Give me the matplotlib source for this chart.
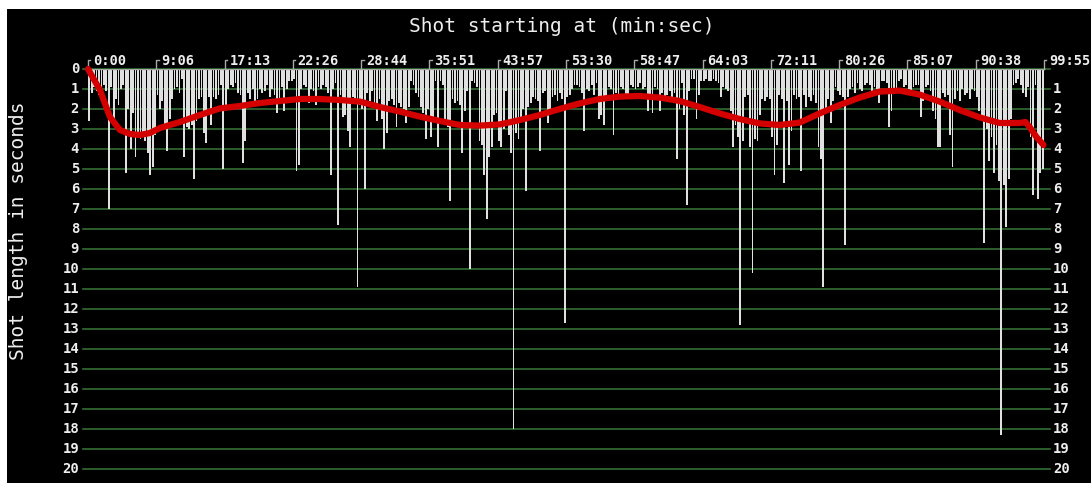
import matplotlib
matplotlib.use("Agg")
import matplotlib.pyplot as plt
from matplotlib.patches import Rectangle

# Length of every shot in seconds, in film order
shot_lengths = [
    2.6, 1.2, 0.9, 1.1, 1.3, 1.0, 0.8, 1.1, 7.0, 0.9,
    2.5, 1.5, 1.8, 1.0, 0.8, 5.2, 2.0, 4.0, 2.2, 4.4,
    3.3, 3.5, 3.2, 3.6, 4.2, 5.3, 4.9, 3.3, 1.3, 2.0,
    1.6, 2.8, 4.1, 2.5, 1.5, 1.0, 0.9, 1.2, 0.5, 4.4,
    2.9, 3.0, 2.8, 5.5, 2.6, 1.5, 1.4, 3.2, 3.7, 1.4,
    2.8, 1.4, 1.5, 1.3, 0.8, 5.0, 1.8, 1.0, 0.8, 0.9,
    0.7, 1.2, 1.3, 4.7, 3.6, 1.2, 1.5, 1.0, 1.6, 1.5,
    1.0, 1.2, 1.1, 0.8, 1.4, 1.0, 1.3, 2.2, 1.5, 0.9,
    2.1, 1.0, 0.6, 0.6, 0.5, 5.1, 4.8, 1.0, 0.8, 0.9,
    1.7, 1.0, 1.1, 1.8, 0.9, 1.0, 0.8,
    0.9, 1.2, 5.3, 1.0, 0.7, 7.8, 1.3, 2.4, 2.3, 3.1,
    3.9, 1.4, 1.6, 10.9, 1.8, 2.0, 6.0, 1.2, 1.6, 1.1,
    1.7, 2.6, 1.5, 2.5, 4.0, 3.2, 1.6, 1.5, 1.8, 2.9,
    1.7, 1.9, 2.0, 2.7, 1.9, 0.6, 0.8, 1.2, 1.4, 1.9,
    2.2, 3.5, 2.0, 3.4, 2.5, 0.6, 3.9, 0.6, 0.8, 2.7,
    2.9, 6.6, 1.5, 1.7, 1.6, 1.8, 4.2, 2.1, 1.1, 10.0,
    0.6, 0.7, 0.9, 3.6, 3.8, 5.3, 7.5, 4.4, 3.9, 2.3,
    2.2, 3.6, 3.9, 3.0, 1.1, 3.3, 4.2, 18.0, 3.2, 3.5,
    2.6, 2.0, 6.1, 1.9, 1.7, 1.4, 1.5, 1.6, 4.1, 1.2,
    1.1, 2.7, 2.2, 1.4, 1.3, 1.6, 1.2, 1.5,
    12.7, 1.4, 1.3, 1.0, 0.8, 0.8, 0.9, 1.2, 3.1, 1.0,
    1.1, 0.8, 1.3, 0.7, 2.5, 2.3, 2.8, 1.5, 0.9, 1.0,
    3.3, 1.2, 1.4, 0.9, 1.0, 1.5, 1.3, 0.8, 0.9, 1.0,
    0.9, 0.7, 1.0, 0.9, 2.1, 1.3, 2.2, 0.9, 1.0, 2.1,
    1.2, 1.5, 1.3, 1.1, 1.6, 1.2, 4.5, 2.0, 0.7, 2.3,
    6.8, 1.1, 0.5, 0.5, 2.5, 1.3, 0.6, 0.6, 0.5, 0.6,
    0.6, 0.5, 0.6, 0.7, 1.4, 0.9, 1.0, 1.1, 2.1, 3.9,
    2.8, 3.4, 12.8, 3.6, 1.4, 1.3, 3.9, 10.2, 3.5, 3.6,
    2.3, 1.5, 1.6, 1.4, 1.5, 3.4, 5.3, 3.8, 1.3, 1.5,
    5.7, 1.6, 4.8, 3.1, 1.3, 1.5, 1.4,
    5.1, 1.3, 1.9, 1.4, 1.6, 1.3, 1.7, 3.9, 4.5, 10.9,
    2.0, 1.5, 2.7, 1.6, 0.9, 1.1, 1.3, 1.4, 8.8, 1.4,
    1.0, 0.9, 1.2, 0.7, 1.0, 1.1, 0.8, 0.7, 0.8, 1.4,
    0.9, 1.0, 1.7, 0.6, 0.6, 0.7, 2.9, 2.1, 1.2, 1.0,
    0.6, 0.5, 0.9, 0.8, 1.0, 1.2, 0.9, 0.8, 0.8, 2.4,
    1.6, 0.9, 0.8, 1.1, 2.1, 2.5, 3.9, 3.9, 1.2, 1.4,
    1.3, 3.3, 4.9, 1.5, 1.1, 1.6, 1.0, 1.3, 1.2, 1.5,
    1.0, 1.1, 1.4, 2.1, 2.4, 8.7, 3.0, 4.6, 3.4, 5.2,
    3.8, 5.6, 18.3, 5.8, 7.9, 5.5, 2.5, 0.8, 0.7, 0.5,
    0.8, 1.2, 1.4, 0.9, 3.4, 6.3, 0.8, 6.5, 5.2, 5.0,
]

# Start time of the shot at each labelled tick
time_labels = ["0:00", "9:06", "17:13", "22:26", "28:44", "35:51", "43:57",
               "53:30", "58:47", "64:03", "72:11", "80:26", "85:07", "90:38",
               "99:55"]

# Smoothed trend of shot length (shot index, seconds)
trend_shot = [-0.5, 4.4, 8.5, 12.6, 16.7, 20.8, 24.9, 29.0, 37.2, 45.4,
              53.6, 61.8, 70.0, 78.2, 86.4, 94.6, 102.8, 111.0, 119.2, 127.4,
              135.6, 143.8, 152.0, 160.2, 168.4, 176.6, 184.7, 192.9, 201.1, 209.3,
              217.5, 225.7, 233.9, 242.1, 250.3, 258.5, 266.7, 274.9, 283.1, 291.3,
              299.5, 307.7, 315.9, 324.1, 332.3, 340.5, 348.7, 356.9, 365.1, 373.3,
              381.5, 383.9, 385.6, 388.4, 391.3]
trend_len = [0.0, 1.05, 2.4, 3.05, 3.25, 3.3, 3.2, 2.95, 2.65, 2.3,
             1.97, 1.85, 1.7, 1.6, 1.5, 1.5, 1.55, 1.63, 1.9, 2.13,
             2.38, 2.6, 2.8, 2.83, 2.77, 2.55, 2.3, 2.0, 1.72, 1.5,
             1.38, 1.35, 1.43, 1.6, 1.9, 2.22, 2.5, 2.72, 2.8, 2.68,
             2.22, 1.8, 1.43, 1.13, 1.08, 1.28, 1.63, 2.05, 2.42, 2.7,
             2.7, 2.65, 2.9, 3.4, 3.8]

W, H = 1091, 483
fig = plt.figure(figsize=(W / 100, H / 100), dpi=100, facecolor="white")
fig.patches.append(Rectangle((7 / W, 0), 1 - 7 / W, 1 - 9 / H,
                             transform=fig.transFigure, facecolor="black",
                             edgecolor="none", zorder=-10))

n = len(shot_lengths)
data_left, data_right = 88, 1044
px_per_shot = (data_right - data_left) / n
ax_left, ax_right = 83, 1050
x0 = -0.5 - (data_left - ax_left) / px_per_shot
x1 = n - 0.5 + (ax_right - data_right) / px_per_shot
top_px, bot_px = 69, 469
ax = fig.add_axes([ax_left / W, 1 - bot_px / H,
                   (ax_right - ax_left) / W, (bot_px - top_px) / H])
ax.set_zorder(1)
ax.set_xlim(x0, x1)
ax.set_ylim(20, 0)
ax.axis("off")

mono = "DejaVu Sans Mono"
txt_col = "#eeeeee"
grid_col = "#336e33"

def px_to_x(px):
    return x0 + (px - ax_left) / px_per_shot

# horizontal guide lines and second labels on both sides
for v in range(21):
    ax.plot([x0, x1], [v, v], color=grid_col, lw=1.2, zorder=1, clip_on=False)
    ax.text(px_to_x(79), v, str(v), ha="right", va="center", color=txt_col,
            fontsize=10, family=mono, fontweight="bold", clip_on=False)
    if v > 0:
        ax.text(px_to_x(1053), v, str(v), ha="left", va="center",
                color=txt_col, fontsize=10, family=mono, fontweight="bold",
                clip_on=False)

# shot bars hanging from the top line
ax.bar(range(n), shot_lengths, width=0.74, color="#e0e0e0", linewidth=0,
       zorder=2)

# top axis line with time ticks
tick_col = "#a8a8a8"
ax.plot([-0.5, n - 0.5], [0, 0], color=tick_col, lw=1, zorder=3)
step = n / (len(time_labels) - 1)
for j, lab in enumerate(time_labels):
    xp = -0.5 + j * step
    ax.plot([xp, xp, xp + 1.0], [0, -0.45, -0.45], color=tick_col, lw=1,
            zorder=3, clip_on=False)
    ax.text(xp + 2.0, -0.42, lab, ha="left", va="center", color=txt_col,
            fontsize=9.8, family=mono, fontweight="bold", clip_on=False)

# trend line
ax.plot(trend_shot, trend_len, color="#d40000", lw=4.5, zorder=4,
        solid_capstyle="round", solid_joinstyle="round", clip_on=False)

fig.text(562 / W, 1 - 26 / H, "Shot starting at (min:sec)", ha="center",
         va="center", color=txt_col, fontsize=14, family=mono)
fig.text(18.5 / W, 1 - 231 / H, "Shot length in seconds", ha="center",
         va="center", rotation=90, color=txt_col, fontsize=14, family=mono)

fig.savefig("out.png", dpi=100, facecolor="white")
